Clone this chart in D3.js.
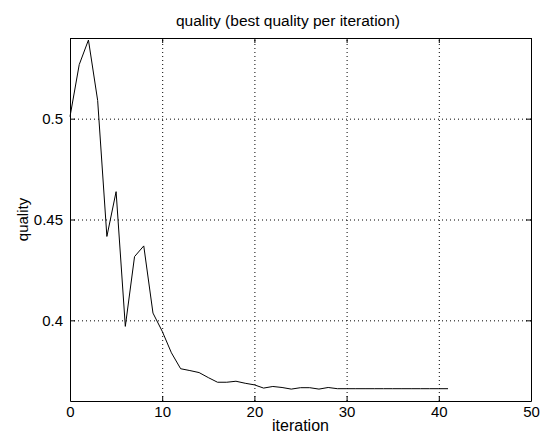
<!DOCTYPE html>
<html>
<head>
<meta charset="utf-8">
<script src="https://cdn.jsdelivr.net/npm/d3@7"></script>
<style>
  body { margin: 0; background: #fff; }
  svg text { font-family: "Liberation Sans", Arial, sans-serif; fill: #000; }
</style>
</head>
<body>
<div id="chart"></div>
<script>
// best quality per iteration
const iterations = d3.range(0, 42);
const quality = [
  0.5010, 0.5268, 0.5390, 0.5090, 0.4416, 0.4638, 0.3970, 0.4316, 0.4369, 0.4036,
  0.3946, 0.3839, 0.3760, 0.3751, 0.3741, 0.3716, 0.3693, 0.3693, 0.3698, 0.3688,
  0.3680, 0.3664, 0.3672, 0.3667, 0.3659, 0.3666, 0.3666, 0.3659, 0.3667, 0.3661,
  0.3661, 0.3661, 0.3661, 0.3661, 0.3661, 0.3661, 0.3661, 0.3661, 0.3661, 0.3661,
  0.3661, 0.3661
];
const xTicks = [0, 10, 20, 30, 40, 50];
const yTicks = [0.4, 0.45, 0.5];
const titleText = "quality (best quality per iteration)";
const xLabel = "iteration";
const yLabel = "quality";

const W = 548, H = 437;
const margin = {top: 38, right: 17, bottom: 36, left: 70};
const width = W - margin.left - margin.right,
      height = H - margin.top - margin.bottom;

const svg = d3.select("#chart").append("svg")
    .attr("width", W)
    .attr("height", H);

const x = d3.scaleLinear().domain([0, 50]).range([0, width]);
const y = d3.scaleLinear().domain([0.36, 0.54]).range([height, 0]);

const g = svg.append("g")
    .attr("transform", "translate(" + margin.left + "," + margin.top + ")");

// dotted grid
g.append("g")
    .attr("transform", "translate(0," + height + ")")
    .call(d3.axisBottom(x).tickValues(xTicks.slice(1, -1)).tickSize(-height).tickFormat(""))
    .call(a => a.select(".domain").remove())
    .selectAll("line").attr("stroke", "#000").attr("stroke-dasharray", "1,3");
g.append("g")
    .call(d3.axisLeft(y).tickValues(yTicks).tickSize(-width).tickFormat(""))
    .call(a => a.select(".domain").remove())
    .selectAll("line").attr("stroke", "#000").attr("stroke-dasharray", "1,3");

// line
const line = d3.line()
    .x((d, i) => x(iterations[i]))
    .y(d => y(d));
g.append("path")
    .datum(quality)
    .attr("fill", "none")
    .attr("stroke", "#000")
    .attr("stroke-width", 1)
    .attr("d", line);

// box with inward ticks
const bottomAxis = g.append("g")
    .attr("transform", "translate(0," + height + ")")
    .call(d3.axisBottom(x).tickValues(xTicks).tickSizeInner(-5).tickSizeOuter(0).tickPadding(5));
const leftAxis = g.append("g")
    .call(d3.axisLeft(y).tickValues(yTicks).tickSizeInner(-5).tickSizeOuter(0).tickPadding(7)
      .tickFormat(d3.format("")));
g.append("g")
    .call(d3.axisTop(x).tickValues(xTicks).tickSizeInner(-5).tickSizeOuter(0).tickFormat(""));
g.append("g")
    .attr("transform", "translate(" + width + ",0)")
    .call(d3.axisRight(y).tickValues(yTicks).tickSizeInner(-5).tickSizeOuter(0).tickFormat(""));

g.selectAll(".domain, .tick line").attr("stroke", "#000");
bottomAxis.selectAll("text").attr("font-size", 15).attr("font-family", null);
leftAxis.selectAll("text").attr("font-size", 15).attr("font-family", null);

// labels
svg.append("text")
    .attr("x", 288)
    .attr("y", 26)
    .attr("text-anchor", "middle")
    .attr("font-size", 15.5)
    .text(titleText);
svg.append("text")
    .attr("x", margin.left + width / 2)
    .attr("y", 431)
    .attr("text-anchor", "middle")
    .attr("font-size", 16)
    .text(xLabel);
svg.append("text")
    .attr("transform", "translate(28," + (margin.top + height / 2) + ") rotate(-90)")
    .attr("text-anchor", "middle")
    .attr("font-size", 15)
    .text(yLabel);
</script>
</body>
</html>
